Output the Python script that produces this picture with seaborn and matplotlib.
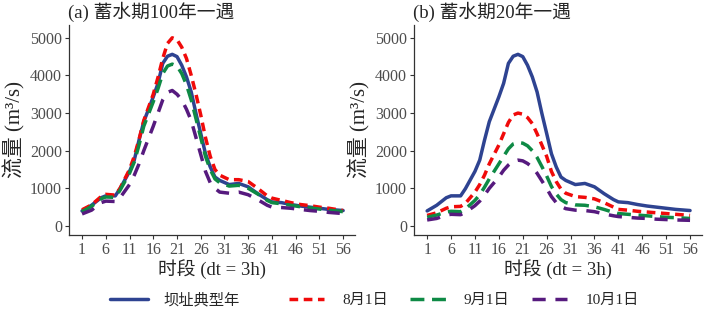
import matplotlib
matplotlib.use("Agg")
import matplotlib.pyplot as plt
from matplotlib.lines import Line2D
import seaborn as sns
import pandas as pd

# time steps (dt = 3h)
steps = [1, 3, 5, 6, 8, 9, 11, 12, 13, 14, 16, 17, 18, 19, 20, 21, 22, 23, 24, 25,
         26, 27, 28, 29, 30, 32, 34, 36, 38, 40, 41, 43, 45, 47, 49, 51, 53, 56]

# 坝址典型年 (same in both panels)
dam_typical = [400, 550, 750, 800, 800, 990, 1450, 1750, 2280, 2770, 3430, 3790, 4320, 4510, 4560,
               4500, 4270, 3960, 3560, 2990, 2460, 1920, 1570, 1300, 1210, 1100, 1130, 1040, 860,
               700, 640, 620, 570, 530, 500, 470, 440, 410]

# (a) 100年一遇
a_aug1 = [430, 560, 780, 840, 820, 1000, 1500, 1850, 2300, 2800, 3500, 3950, 4450, 4850, 5000,
          4950, 4750, 4450, 4000, 3500, 2950, 2350, 1850, 1500, 1350, 1230, 1230, 1180, 1000,
          800, 740, 680, 620, 570, 540, 500, 470, 410]
a_sep1 = [380, 520, 720, 770, 760, 950, 1400, 1700, 2150, 2650, 3300, 3650, 4050, 4250, 4300,
          4250, 4050, 3750, 3350, 2850, 2350, 1850, 1500, 1250, 1150, 1060, 1080, 1000, 850,
          680, 620, 590, 550, 510, 480, 450, 420, 380]
a_oct1 = [320, 420, 620, 660, 650, 750, 1100, 1350, 1650, 2000, 2650, 3000, 3350, 3550, 3600,
          3500, 3350, 3100, 2800, 2350, 1900, 1450, 1150, 1000, 900, 870, 900, 830, 700,
          550, 500, 490, 470, 440, 410, 390, 360, 330]

# (b) 20年一遇
b_aug1 = [280, 350, 470, 510, 520, 600, 900, 1100, 1350, 1650, 2150, 2450, 2750, 2950, 3000,
          2970, 2880, 2720, 2450, 2150, 1850, 1450, 1180, 980, 870, 780, 760, 720, 620,
          500, 440, 420, 390, 370, 350, 330, 310, 280]
b_sep1 = [230, 290, 370, 390, 380, 450, 680, 830, 1030, 1250, 1650, 1850, 2050, 2180, 2220,
          2200, 2130, 2000, 1820, 1580, 1330, 1050, 850, 700, 620, 560, 550, 510, 440,
          360, 330, 310, 290, 270, 250, 230, 220, 200]
b_oct1 = [160, 200, 290, 310, 300, 360, 540, 660, 820, 1000, 1300, 1480, 1620, 1720, 1750,
          1730, 1660, 1560, 1400, 1200, 1000, 780, 620, 520, 460, 420, 410, 380, 320,
          270, 250, 230, 210, 200, 180, 170, 160, 150]

series_names = ["坝址典型年", "8月1日", "9月1日", "10月1日"]
titles = ["(a) 蓄水期100年一遇", "(b) 蓄水期20年一遇"]
xticks = list(range(1, 57, 5))
yticks = [0, 1000, 2000, 3000, 4000, 5000]

panels = [[dam_typical, a_aug1, a_sep1, a_oct1],
          [dam_typical, b_aug1, b_sep1, b_oct1]]

rows = []
for p, vals in enumerate(panels):
    for name, v in zip(series_names, vals):
        for t, q in zip(steps, v):
            rows.append({"panel": p, "方案": name, "时段": t, "流量": q})
df = pd.DataFrame(rows)

colors = {"坝址典型年": "#2E4391", "8月1日": "#F00A0A",
          "9月1日": "#0E8A45", "10月1日": "#561A7E"}
dashes = {"坝址典型年": "", "8月1日": (2.5, 1.6),
          "9月1日": (4.0, 2.2), "10月1日": (3.8, 2.8)}

sns.set_theme(style="white")
fam = ["Liberation Serif", "Noto Sans CJK SC"]
plt.rcParams["font.family"] = fam

fig = plt.figure(figsize=(7.05, 3.13), dpi=100)
ax_pos = [[69 / 705, 1 - 235 / 313, 286 / 705, 210 / 313],
          [414 / 705, 1 - 235 / 313, 288 / 705, 210 / 313]]

for p in range(2):
    ax = fig.add_axes(ax_pos[p])
    sub = df[df["panel"] == p]
    sns.lineplot(data=sub, x="时段", y="流量", hue="方案", style="方案",
                 hue_order=series_names, style_order=series_names,
                 palette=colors, dashes=dashes, linewidth=2.5,
                 legend=False, ax=ax, sort=False)
    ax.set_xlim(-1.75, 58.5)
    ax.set_ylim(-240, 5340)
    ax.set_xticks(xticks)
    ax.set_yticks(yticks)
    ax.tick_params(axis="both", which="both", length=3, width=0.8, color="#333333",
                   labelsize=11.5, labelcolor="#4D4D4D", pad=2, bottom=True, left=True)
    for s in ["top", "right"]:
        ax.spines[s].set_visible(False)
    for s in ["left", "bottom"]:
        ax.spines[s].set_color("#333333")
        ax.spines[s].set_linewidth(0.9)
    ax.set_xlabel("时段 (dt = 3h)", fontsize=13.5, labelpad=1)
    ax.set_ylabel("流量 (m³/s)", fontsize=15, labelpad=3)
    ax.set_title(titles[p], loc="left", fontsize=13.5, pad=5, x=-0.005)
    ax.grid(False)

handles = [Line2D([], [], color=colors[n], lw=2.5,
                  linestyle="-" if dashes[n] == "" else (0, dashes[n]))
           for n in series_names]
fig.legend(handles[:1], series_names[:1], loc="center left",
           bbox_to_anchor=(110 / 705, 0.04), frameon=False, fontsize=11,
           handlelength=2.5, handletextpad=1.0, borderpad=0, borderaxespad=0)
fig.legend(handles[1:], series_names[1:], loc="center left",
           bbox_to_anchor=(289 / 705, 0.04), ncol=3, frameon=False, fontsize=11,
           handlelength=2.3, handletextpad=1.2, columnspacing=1.45,
           borderpad=0, borderaxespad=0)

fig.savefig("out.png", dpi=100)
